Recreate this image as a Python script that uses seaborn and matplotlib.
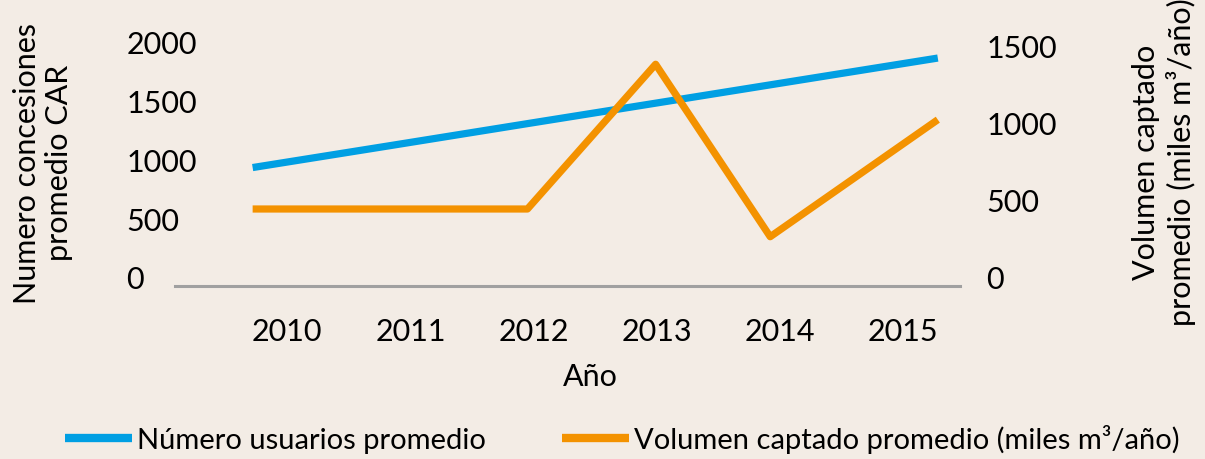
import numpy as np
import pandas as pd
import matplotlib
matplotlib.use("Agg")
import matplotlib.pyplot as plt
import matplotlib.transforms as mtransforms
from matplotlib.lines import Line2D
import seaborn as sns

# datos
anios = [2010, 2011, 2012, 2013, 2014, 2015]
# posicion horizontal donde caen los puntos de las lineas
x_linea = [2009.72, 2010.85, 2011.95, 2012.99, 2013.92, 2015.28]
usuarios = [1008, 1197, 1382, 1556, 1712, 1940]
volumen = [500, 500, 500, 1440, 320, 1080]

ticks_izq = [0, 500, 1000, 1500, 2000]
ticks_der = [0, 500, 1000, 1500]

azul = "#009fe3"
naranja = "#f39200"
fondo = "#f3ece5"

df = pd.DataFrame({"x": x_linea, "usuarios": usuarios, "volumen": volumen})

sns.set_style("white")
plt.rcParams["font.family"] = ["Lato", "DejaVu Sans"]
plt.rcParams["text.color"] = "black"
plt.rcParams["xtick.color"] = "black"
plt.rcParams["ytick.color"] = "black"

dpi = 100
fs = 22
fig = plt.figure(figsize=(12.05, 4.6), dpi=dpi, facecolor=fondo)
ax = fig.add_axes([175 / 1205, 1 - 287 / 460, (960 - 175) / 1205, (287 - 35) / 460])
ax.set_facecolor("none")
ax2 = ax.twinx()

sns.lineplot(data=df, x="x", y="usuarios", ax=ax, color=azul, linewidth=5.2,
             solid_capstyle="butt")
sns.lineplot(data=df, x="x", y="volumen", ax=ax2, color=naranja, linewidth=5.2,
             solid_capstyle="butt")

ax.set_xlim(2009.09, 2015.46)
ax.set_ylim(0, 252 / 0.1175)
ax2.set_ylim(0, 252 / 0.154)

ax.set_xticks(anios)
ax.set_xticklabels([str(a) for a in anios], fontsize=fs)
ax.set_yticks(ticks_izq)
ax.set_yticklabels([str(t) for t in ticks_izq], fontsize=fs, ha="left")
ax2.set_yticks(ticks_der)
ax2.set_yticklabels([str(t) for t in ticks_der], fontsize=fs)

ax.tick_params(axis="x", length=0, pad=22)
ax.tick_params(axis="y", length=0, pad=35)
ax2.tick_params(axis="y", length=0, pad=19)

# las etiquetas de Y aparecen algo por encima de su valor
desplaza = mtransforms.ScaledTranslation(0, 9 / dpi, fig.dpi_scale_trans)
for lab in ax.get_yticklabels() + ax2.get_yticklabels():
    lab.set_transform(lab.get_transform() + desplaza)

for a in (ax, ax2):
    for s in a.spines.values():
        s.set_visible(False)
    a.grid(False)
ax.spines["bottom"].set_visible(True)
ax.spines["bottom"].set_color("#a0a0a0")
ax.spines["bottom"].set_linewidth(2.2)

ax.set_xlabel("")
ax.set_ylabel("")
ax2.set_ylabel("")
fig.text(590 / 1205, 1 - 377 / 460, "Año", fontsize=fs, ha="center", va="center")
fig.text(43 / 1205, 1 - 163 / 460, "Numero concesiones\npromedio CAR", fontsize=fs,
         rotation=90, ha="center", va="center", multialignment="center", linespacing=1.2)
fig.text(1164 / 1205, 1 - 162 / 460, "Volumen captado\npromedio (miles m³/año)", fontsize=fs,
         rotation=90, ha="center", va="center", multialignment="center", linespacing=1.2)

handles = [Line2D([0], [0], color=azul, linewidth=6, solid_capstyle="butt"),
           Line2D([0], [0], color=naranja, linewidth=6, solid_capstyle="butt")]
fig.legend(handles, ["Número usuarios promedio", "Volumen captado promedio (miles m³/año)"],
           loc="center", bbox_to_anchor=(622 / 1205, 1 - 440 / 460), ncol=2, frameon=False,
           prop={"size": 21}, handlelength=2.3, handletextpad=0.17, columnspacing=2.6)

fig.savefig("out.png", dpi=dpi, facecolor=fondo)
